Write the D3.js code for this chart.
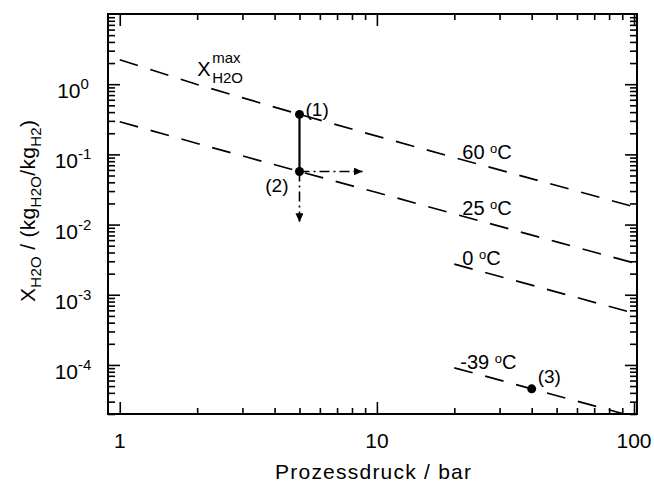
<!DOCTYPE html>
<html>
<head>
<meta charset="utf-8">
<script src="https://cdn.jsdelivr.net/npm/d3@7"></script>
<style>
  body { margin: 0; background: #fff; }
  text { font-family: "Liberation Sans", Arial, sans-serif; fill: #000; }
</style>
</head>
<body>
<svg id="chart" width="654" height="483"></svg>
<script>
// pressure in bar, loading X in kg H2O / kg H2
var pressureFull = [1, 2, 5, 10, 20, 50, 100];
var loading60 = [2.23, 0.99, 0.371, 0.182, 0.0901, 0.036, 0.0179];
var loading25 = [0.292, 0.143, 0.057, 0.0286, 0.0142, 0.00567, 0.00283];
var pressureHigh = [20, 40, 100];
var loading0 = [0.00273, 0.00137, 0.000546];
var loadingMinus39 = [9.1e-5, 4.57e-5, 1.83e-5];

var lineTemps = ["60", "25", "0", "-39"];

var statePressure = [5, 5, 40];
var stateLoading = [0.371, 0.057, 4.57e-5];
var stateLabels = ["(1)", "(2)", "(3)"];

// dash-dot arrows leaving state (2)
var arrowPressure = 8.8;
var arrowLoading = 0.0108;

var xTicks = [1, 10, 100];
var yTicks = [1, 0.1, 0.01, 0.001, 0.0001];
var yExponents = ["0", "-1", "-2", "-3", "-4"];

var svg = d3.select("#chart");
var plotLeft = 108, plotRight = 637, plotTop = 14, plotBottom = 414;

var x = d3.scaleLog().domain([0.9, 102.7]).range([plotLeft, plotRight]);
var y = d3.scaleLog().domain([2e-5, 10]).range([plotBottom, plotTop]);

// minor ticks
var xMinor = [];
var yMinor = [];
for (var k = -5; k <= 1; k++) {
  for (var m = 2; m <= 9; m++) {
    var v = m * Math.pow(10, k);
    if (v > 0.9 && v < 100) xMinor.push(v);
    if (v >= 2e-5 && v < 10) yMinor.push(v);
  }
}

svg.append("clipPath").attr("id", "plot-clip")
  .append("rect")
  .attr("x", plotLeft).attr("y", plotTop)
  .attr("width", plotRight - plotLeft).attr("height", plotBottom - plotTop);

function drawTicks(axis, values, size) {
  return function (g) {
    g.call(axis.tickValues(values).tickSize(size).tickFormat(""));
    g.select(".domain").remove();
    g.selectAll(".tick line").attr("stroke", "#000").attr("stroke-width", 1.6);
  };
}

// ticks point inward on all four sides
svg.append("g").attr("transform", "translate(0," + plotBottom + ")").call(drawTicks(d3.axisBottom(x), xMinor, -6));
svg.append("g").attr("transform", "translate(0," + plotBottom + ")").call(drawTicks(d3.axisBottom(x), xTicks, -12));
svg.append("g").attr("transform", "translate(0," + plotTop + ")").call(drawTicks(d3.axisTop(x), xMinor, -6));
svg.append("g").attr("transform", "translate(0," + plotTop + ")").call(drawTicks(d3.axisTop(x), xTicks, -12));
svg.append("g").attr("transform", "translate(" + plotLeft + ",0)").call(drawTicks(d3.axisLeft(y), yMinor, -7));
svg.append("g").attr("transform", "translate(" + plotLeft + ",0)").call(drawTicks(d3.axisLeft(y), yTicks, -12));
svg.append("g").attr("transform", "translate(" + plotRight + ",0)").call(drawTicks(d3.axisRight(y), yMinor, -7));
svg.append("g").attr("transform", "translate(" + plotRight + ",0)").call(drawTicks(d3.axisRight(y), yTicks, -12));

svg.append("rect")
  .attr("x", plotLeft).attr("y", plotTop)
  .attr("width", plotRight - plotLeft).attr("height", plotBottom - plotTop)
  .attr("fill", "none").attr("stroke", "#000").attr("stroke-width", 2);

// tick labels
svg.selectAll(".xlabel")
  .data(xTicks)
  .enter().append("text")
  .attr("class", "xlabel")
  .attr("x", function (d) { return x(d); })
  .attr("y", plotBottom + 34)
  .attr("text-anchor", "middle")
  .style("font-size", "21px")
  .text(function (d) { return d; });

var yLabel = svg.selectAll(".ylabel")
  .data(yTicks)
  .enter().append("text")
  .attr("class", "ylabel")
  .attr("x", 73)
  .attr("y", function (d) { return y(d) + 14; })
  .attr("text-anchor", "middle")
  .style("font-size", "21px");
yLabel.append("tspan").text("10");
yLabel.append("tspan")
  .attr("dy", -9)
  .style("font-size", "15px")
  .text(function (d, i) { return yExponents[i]; });

// axis titles
svg.append("text")
  .attr("x", 373)
  .attr("y", 479)
  .attr("text-anchor", "middle")
  .attr("textLength", 196)
  .style("font-size", "21px")
  .text("Prozessdruck / bar");

var yTitle = svg.append("text")
  .attr("transform", "translate(35,211) rotate(-90)")
  .attr("text-anchor", "middle")
  .attr("textLength", 182)
  .style("font-size", "21px");
yTitle.append("tspan").text("X");
yTitle.append("tspan").attr("dy", 6).style("font-size", "15px").text("H2O");
yTitle.append("tspan").attr("dy", -6).text(" / (kg");
yTitle.append("tspan").attr("dy", 6).style("font-size", "15px").text("H2O");
yTitle.append("tspan").attr("dy", -6).text("/kg");
yTitle.append("tspan").attr("dy", 6).style("font-size", "15px").text("H2");
yTitle.append("tspan").attr("dy", -6).text(")");

// saturation lines
var line = d3.line()
  .x(function (d) { return x(d[0]); })
  .y(function (d) { return y(d[1]); });

var curves = [
  d3.zip(pressureFull, loading60),
  d3.zip(pressureFull, loading25),
  d3.zip(pressureHigh, loading0),
  d3.zip(pressureHigh, loadingMinus39)
];

svg.append("g")
  .attr("clip-path", "url(#plot-clip)")
  .selectAll("path")
  .data(curves)
  .enter().append("path")
  .attr("d", line)
  .attr("fill", "none")
  .attr("stroke", "#000")
  .attr("stroke-width", 1.7)
  .attr("stroke-dasharray", "19,13");

// temperature labels sit just right of p = 20 bar on each line
var tempLabel = svg.selectAll(".temp")
  .data(curves)
  .enter().append("text")
  .attr("class", "temp")
  .attr("x", function (d, i) { return x(20) + (i == 3 ? 6 : 8); })
  .attr("y", function (d) {
    var at20 = d.filter(function (p) { return p[0] == 20; })[0];
    return y(at20[1]) + 1;
  })
  .style("font-size", "20px");
tempLabel.append("tspan").text(function (d, i) { return lineTemps[i] + " "; });
tempLabel.append("tspan").attr("dy", -6).style("font-size", "13px").text("o");
tempLabel.append("tspan").attr("dy", 6).text("C");

// X max label
var xmax = svg.append("text")
  .attr("x", x(2))
  .attr("y", y(loading60[1]) - 8)
  .style("font-size", "20px");
xmax.append("tspan").text("X");
var xmaxX = x(2) + 15;
xmax.append("tspan").attr("x", xmaxX).attr("dy", -13).style("font-size", "15px").text("max");
xmax.append("tspan").attr("x", xmaxX).attr("dy", 20).style("font-size", "15px").text("H2O");

// process path (1) -> (2)
svg.append("line")
  .attr("x1", x(statePressure[0])).attr("y1", y(stateLoading[0]))
  .attr("x2", x(statePressure[1])).attr("y2", y(stateLoading[1]))
  .attr("stroke", "#000").attr("stroke-width", 2.2);

svg.append("defs").append("marker")
  .attr("id", "arrow")
  .attr("markerUnits", "userSpaceOnUse")
  .attr("markerWidth", 10).attr("markerHeight", 8)
  .attr("refX", 9).attr("refY", 4)
  .attr("orient", "auto")
  .append("path")
  .attr("d", "M0,0 L9,4 L0,8 Z")
  .attr("fill", "#000");

var arrows = [
  [[statePressure[1], stateLoading[1]], [arrowPressure, stateLoading[1]]],
  [[statePressure[1], stateLoading[1]], [statePressure[1], arrowLoading]]
];
svg.selectAll(".arrow")
  .data(arrows)
  .enter().append("path")
  .attr("class", "arrow")
  .attr("d", line)
  .attr("fill", "none")
  .attr("stroke", "#000")
  .attr("stroke-width", 1.6)
  .attr("stroke-dasharray", "10,4,2,4")
  .attr("marker-end", "url(#arrow)");

// state points
svg.selectAll(".state")
  .data(statePressure)
  .enter().append("circle")
  .attr("class", "state")
  .attr("cx", function (d) { return x(d); })
  .attr("cy", function (d, i) { return y(stateLoading[i]); })
  .attr("r", 4.5)
  .attr("fill", "#000");

var stateDx = [6, -11, 6];
var stateDy = [2, 20, -6];
svg.selectAll(".state-label")
  .data(stateLabels)
  .enter().append("text")
  .attr("class", "state-label")
  .attr("x", function (d, i) { return x(statePressure[i]) + stateDx[i]; })
  .attr("y", function (d, i) { return y(stateLoading[i]) + stateDy[i]; })
  .attr("text-anchor", function (d, i) { return i == 1 ? "end" : "start"; })
  .style("font-size", "19px")
  .text(function (d) { return d; });
</script>
</body>
</html>
